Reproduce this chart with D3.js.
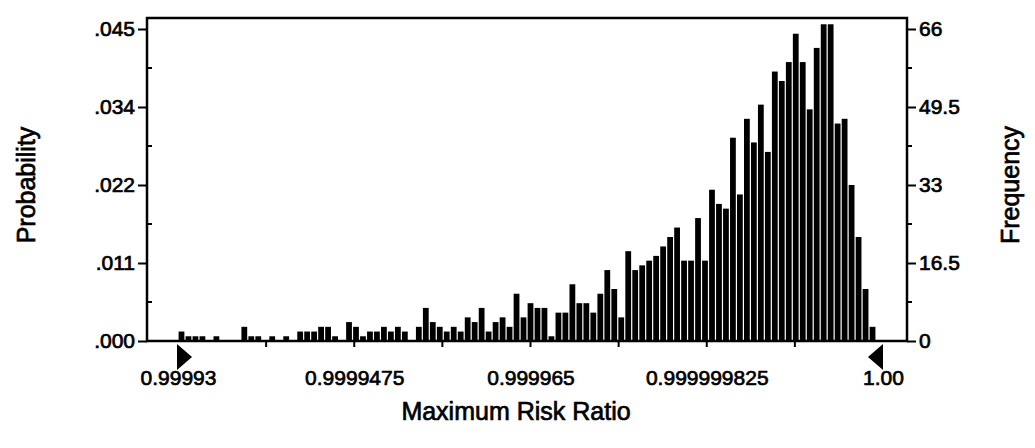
<!DOCTYPE html>
<html>
<head>
<meta charset="utf-8">
<script src="https://cdn.jsdelivr.net/npm/d3@7"></script>
<style>
  body { margin: 0; background: #fff; }
  text { font-family: "Liberation Sans", Arial, sans-serif; fill: #000; stroke: #000; stroke-width: 0.7px; }
</style>
</head>
<body>
<div id="chart"></div>
<script>
// Frequency per bin (1500 trials); the last bin before 1.00 is empty
const frequencies = [
    2, 1, 1, 1, 0, 1, 0, 0, 0, 3,
    1, 1, 0, 1, 0, 1, 0, 2, 2, 2,
    3, 3, 1, 0, 4, 3, 1, 2, 2, 3,
    2, 3, 2, 0, 3, 7, 4, 3, 2, 3,
    2, 5, 4, 7, 2, 4, 5, 3, 10, 5,
    8, 7, 7, 1, 6, 6, 12, 8, 8, 6,
    10, 15, 11, 5, 19, 15, 16, 17, 18, 20,
    22, 24, 17, 17, 26, 17, 32, 29, 28, 43,
    31, 47, 42, 50, 40, 57, 55, 59, 65, 59,
    49, 62, 67, 67, 46, 47, 33, 22, 11, 3,
    0
];

const xRange = [0.99993, 1.00];
const xTickValues = [0.99993, 0.9999475, 0.999965, 0.9999825, 1.00];
const xTickLabels = ['0.99993', '0.9999475', '0.999965', '0.999999825', '1.00'];

const freqTicks = [0, 16.5, 33, 49.5, 66];
const freqTickLabels = ['0', '16.5', '33', '49.5', '66'];
const probTickLabels = ['.000', '.011', '.022', '.034', '.045'];

const width = 1035;
const height = 448;
const margin = { top: 18, right: 128, bottom: 107, left: 147 };

const svg = d3.select('#chart')
    .append('svg')
    .attr('width', width)
    .attr('height', height);

const innerRight = width - margin.right;
const baseY = height - margin.bottom;

// Scales
const xScale = d3.scaleLinear()
    .domain(xRange)
    .range([178, 883]);

const yScale = d3.scaleLinear()
    .domain([0, 66])
    .range([baseY, 29]);

const binWidth = (xRange[1] - xRange[0]) / frequencies.length;
const binPx = xScale(xRange[0] + binWidth) - xScale(xRange[0]);

// Bars
svg.append('g')
    .selectAll('rect')
    .data(frequencies)
    .enter()
    .append('rect')
    .attr('x', (d, i) => xScale(xRange[0] + i * binWidth) + 0.6)
    .attr('width', binPx - 1.2)
    .attr('y', d => yScale(d))
    .attr('height', d => baseY - yScale(d))
    .attr('fill', '#000');

// Frame: top line, left / right axes, baseline
svg.append('path')
    .attr('d', `M${margin.left},${baseY}V${margin.top}H${innerRight}V${baseY}H${margin.left}Z`)
    .attr('stroke', '#000')
    .attr('stroke-width', 2.5)
    .attr('fill', 'none');

// Left axis (probability)
const gLeft = svg.append('g')
    .attr('transform', `translate(${margin.left},0)`)
    .call(d3.axisLeft(yScale)
        .tickValues(freqTicks)
        .tickSize(9)
        .tickPadding(3)
        .tickFormat((d, i) => probTickLabels[i]));

// Right axis (frequency)
const gRight = svg.append('g')
    .attr('transform', `translate(${innerRight},0)`)
    .call(d3.axisRight(yScale)
        .tickValues(freqTicks)
        .tickSize(9)
        .tickPadding(3)
        .tickFormat((d, i) => freqTickLabels[i]));

// Minor ticks halfway between the majors
const minorTicks = freqTicks.slice(1).map((d, i) => (d + freqTicks[i]) / 2);

[gLeft, gRight].forEach(g => {
    g.selectAll('.minor')
        .data(minorTicks)
        .enter()
        .append('line')
        .attr('class', 'minor')
        .attr('x1', 0).attr('x2', 5)
        .attr('y1', d => yScale(d)).attr('y2', d => yScale(d));
});

// Bottom axis
const gBottom = svg.append('g')
    .attr('transform', `translate(0,${baseY})`)
    .call(d3.axisBottom(xScale)
        .tickValues(xTickValues)
        .tickSize(0)
        .tickPadding(29)
        .tickFormat((d, i) => xTickLabels[i]));

// Small tick marks under the baseline
const xMinorTicks = xTickValues.slice(1).map((d, i) => (d + xTickValues[i]) / 2);
gBottom.selectAll('.xtick')
    .data(xTickValues.slice(1, -1).concat(xMinorTicks))
    .enter()
    .append('line')
    .attr('class', 'xtick')
    .attr('x1', d => xScale(d)).attr('x2', d => xScale(d))
    .attr('y1', 0).attr('y2', 6);

[gLeft, gRight, gBottom].forEach(g => {
    g.select('.domain').remove();
    g.selectAll('line').attr('stroke', '#000').attr('stroke-width', 2);
    g.selectAll('text').style('font-size', '21px');
});

// Range markers (triangles) at both ends of the display range
const markerTop = baseY + 3;
svg.append('path')
    .attr('d', `M${xScale(xRange[0]) - 1},${markerTop}l15,13l-15,13Z`)
    .attr('fill', '#000');

svg.append('path')
    .attr('d', `M${xScale(xRange[1])},${markerTop}l-15,13l15,13Z`)
    .attr('fill', '#000');

// Axis titles
svg.append('text')
    .attr('transform', 'translate(35,185) rotate(-90)')
    .attr('text-anchor', 'middle')
    .style('font-size', '25px')
    .text('Probability');

svg.append('text')
    .attr('transform', 'translate(1019,185) rotate(-90)')
    .attr('text-anchor', 'middle')
    .style('font-size', '25px')
    .text('Frequency');

svg.append('text')
    .attr('x', 516)
    .attr('y', 420)
    .attr('text-anchor', 'middle')
    .style('font-size', '25px')
    .text('Maximum Risk Ratio');
</script>
</body>
</html>
